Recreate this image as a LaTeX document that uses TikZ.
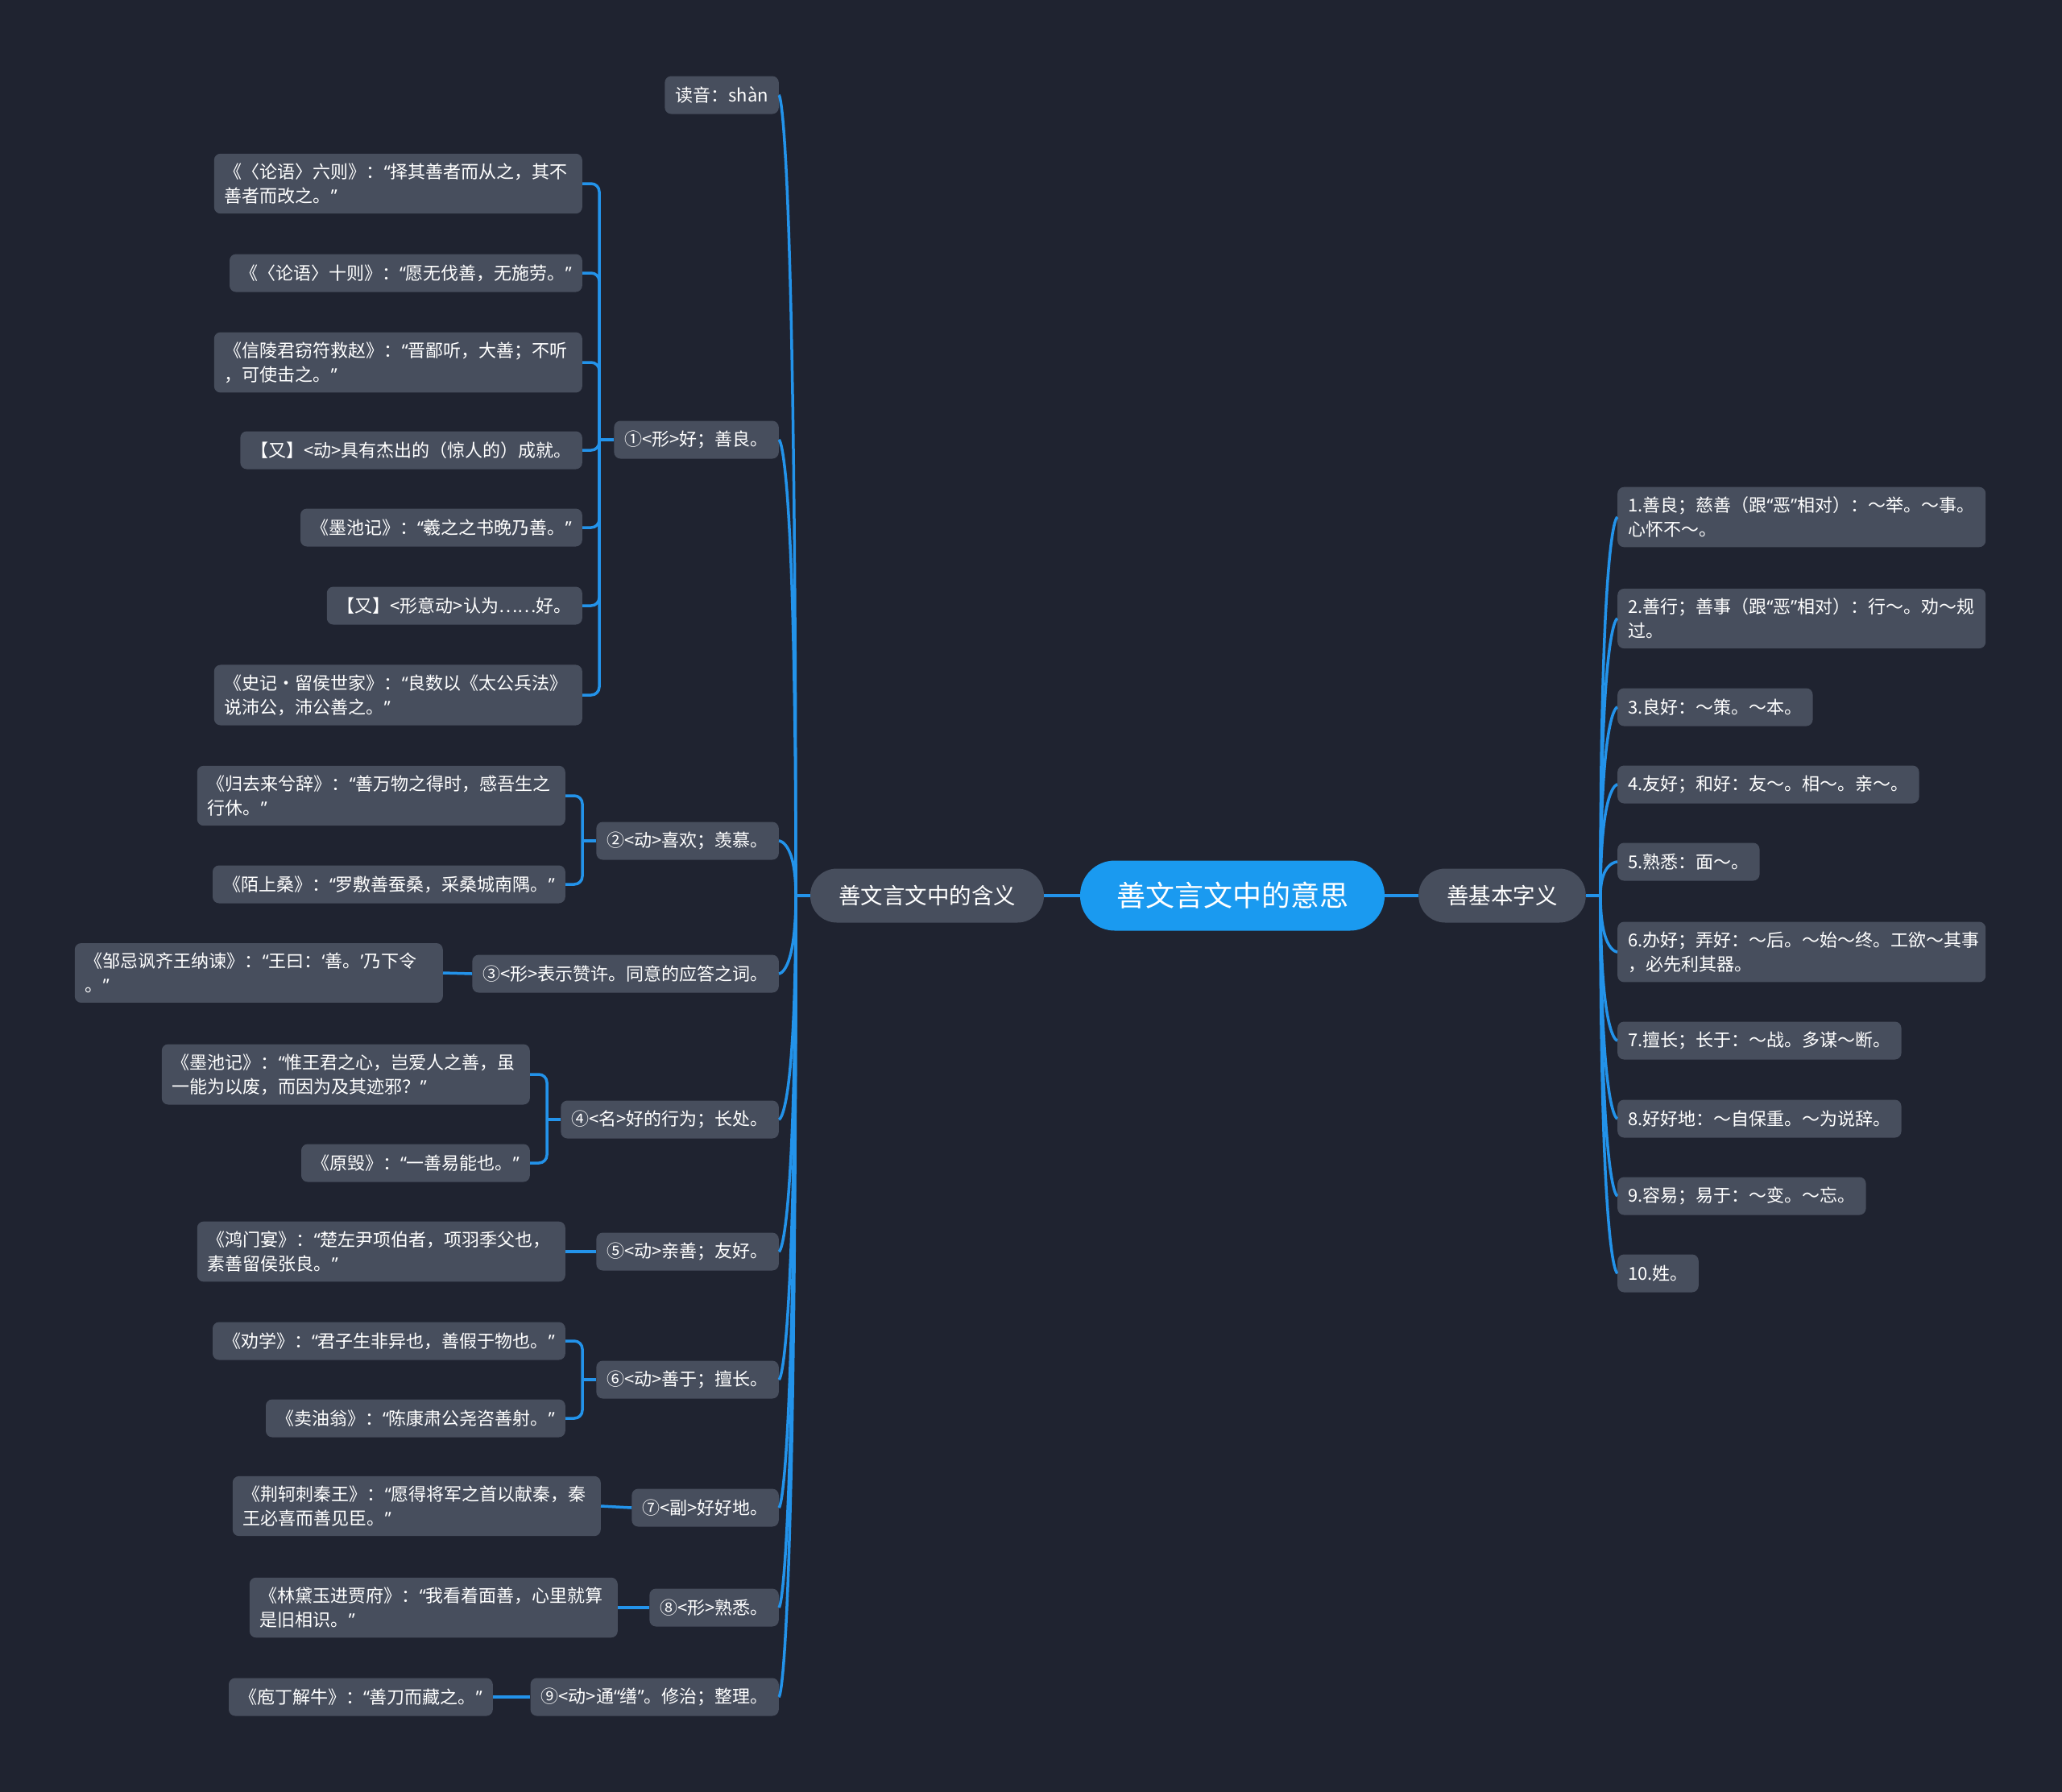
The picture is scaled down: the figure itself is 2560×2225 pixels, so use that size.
\documentclass[tikz,border=0pt]{standalone}
\usepackage{fontspec}
\setmainfont{Noto Sans CJK SC}
\newfontfamily\quotefont{Noto Sans}
\newcommand\qol{{\quotefont “}}
\newcommand\qcl{{\quotefont ”}}
\newcommand\qos{{\quotefont ‘}}
\newcommand\qcs{{\quotefont ’}}
\usepackage{tikz}
\usetikzlibrary{positioning}
\definecolor{bgnavy}{HTML}{1F2330}
\definecolor{boxgrey}{HTML}{474E5D}
\definecolor{linkblue}{HTML}{2393EA}
\definecolor{rootblue}{HTML}{1A9AF0}
\tikzset{
  leaf/.style={fill=boxgrey, text=white, rounded corners=8pt, inner xsep=13pt,
    inner ysep=12pt, minimum height=47pt, align=left,
    font=\fontsize{22}{30}\selectfont},
  longleaf/.style={leaf, text width=431pt},
  topic/.style={fill=boxgrey, text=white, rounded corners=33pt, inner xsep=35pt,
    minimum height=67pt, font=\fontsize{27.5}{33}\selectfont},
  root/.style={fill=rootblue, text=white, rounded corners=43pt, inner xsep=45pt,
    minimum height=87pt, font=\fontsize{36}{43}\selectfont},
  link/.style={draw=linkblue, line width=3.5pt},
}

\begin{document}
\begin{tikzpicture}[x=1pt,y=-1pt]
		% background, also the page size
			\fill[bgnavy] (0,0) rectangle (2560,2225);
		% centre and the two main branches
			\node[root] (T) at (1530,1112) {善文言文中的意思};
			\node[topic] (M) at (1151,1112) {善文言文中的含义};
			\node[topic] (K) at (1865,1112) {善基本字义};
			\coordinate (LS) at (988,1112);
			\coordinate (RS) at (1987,1112);
		% left: meanings in classical texts
			\node[leaf, anchor=east] (m0) at (967,118) {读音：shàn};
			\node[leaf, anchor=east] (m1) at (967,546) {①<形>好；善良。};
			\node[leaf, anchor=east] (m2) at (967,1044) {②<动>喜欢；羡慕。};
			\node[leaf, anchor=east] (m3) at (967,1209) {③<形>表示赞许。同意的应答之词。};
			\node[leaf, anchor=east] (m4) at (967,1390) {④<名>好的行为；长处。};
			\node[leaf, anchor=east] (m5) at (967,1554) {⑤<动>亲善；友好。};
			\node[leaf, anchor=east] (m6) at (967,1713) {⑥<动>善于；擅长。};
			\node[leaf, anchor=east] (m7) at (967,1872) {⑦<副>好好地。};
			\node[leaf, anchor=east] (m8) at (967,1996) {⑧<形>熟悉。};
			\node[leaf, anchor=east] (m9) at (967,2107) {⑨<动>通\qol{}缮\qcl{}。修治；整理。};
		% examples
			\node[longleaf, anchor=east] (m1a) at (723,228) {《〈论语〉六则》：\qol{}择其善者而从之，其不\\善者而改之。\qcl};
			\node[leaf, anchor=east] (m1b) at (723,339) {《〈论语〉十则》：\qol{}愿无伐善，无施劳。\qcl};
			\node[longleaf, anchor=east] (m1c) at (723,450) {《信陵君窃符救赵》：\qol{}晋鄙听，大善；不听\\，可使击之。\qcl};
			\node[leaf, anchor=east] (m1d) at (723,559) {【又】<动>具有杰出的（惊人的）成就。};
			\node[leaf, anchor=east] (m1e) at (723,655) {《墨池记》：\qol{}羲之之书晚乃善。\qcl};
			\node[leaf, anchor=east] (m1f) at (723,752) {【又】<形意动>认为……好。};
			\node[longleaf, anchor=east] (m1g) at (723,863) {《史记·留侯世家》：\qol{}良数以《太公兵法》\\说沛公，沛公善之。\qcl};
			\node[longleaf, anchor=east] (m2a) at (702,988) {《归去来兮辞》：\qol{}善万物之得时，感吾生之\\行休。\qcl};
			\node[leaf, anchor=east] (m2b) at (702,1098) {《陌上桑》：\qol{}罗敷善蚕桑，采桑城南隅。\qcl};
			\node[longleaf, anchor=east] (m3a) at (550,1208) {《邹忌讽齐王纳谏》：\qol{}王曰：\qos{}善。\qcs{}乃下令\\。\qcl};
			\node[longleaf, anchor=east] (m4a) at (658,1334) {《墨池记》：\qol{}惟王君之心，岂爱人之善，虽\\一能为以废，而因为及其迹邪？\qcl};
			\node[leaf, anchor=east] (m4b) at (658,1444) {《原毁》：\qol{}一善易能也。\qcl};
			\node[longleaf, anchor=east] (m5a) at (702,1554) {《鸿门宴》：\qol{}楚左尹项伯者，项羽季父也，\\素善留侯张良。\qcl};
			\node[leaf, anchor=east] (m6a) at (702,1665) {《劝学》：\qol{}君子生非异也，善假于物也。\qcl};
			\node[leaf, anchor=east] (m6b) at (702,1761) {《卖油翁》：\qol{}陈康肃公尧咨善射。\qcl};
			\node[longleaf, anchor=east] (m7a) at (746,1870) {《荆轲刺秦王》：\qol{}愿得将军之首以献秦，秦\\王必喜而善见臣。\qcl};
			\node[longleaf, anchor=east] (m8a) at (767,1996) {《林黛玉进贾府》：\qol{}我看着面善，心里就算\\是旧相识。\qcl};
			\node[leaf, anchor=east] (m9a) at (612,2107) {《庖丁解牛》：\qol{}善刀而藏之。\qcl};
		% right: basic meanings
			\node[longleaf, anchor=west] (k1) at (2008,642) {1.善良；慈善（跟\qol{}恶\qcl{}相对）：～举。～事。\\心怀不～。};
			\node[longleaf, anchor=west] (k2) at (2008,768) {2.善行；善事（跟\qol{}恶\qcl{}相对）：行～。劝～规\\过。};
			\node[leaf, anchor=west] (k3) at (2008,878) {3.良好：～策。～本。};
			\node[leaf, anchor=west] (k4) at (2008,974) {4.友好；和好：友～。相～。亲～。};
			\node[leaf, anchor=west] (k5) at (2008,1070) {5.熟悉：面～。};
			\node[longleaf, anchor=west] (k6) at (2008,1182) {6.办好；弄好：～后。～始～终。工欲～其事\\，必先利其器。};
			\node[leaf, anchor=west] (k7) at (2008,1292) {7.擅长；长于：～战。多谋～断。};
			\node[leaf, anchor=west] (k8) at (2008,1389) {8.好好地：～自保重。～为说辞。};
			\node[leaf, anchor=west] (k9) at (2008,1485) {9.容易；易于：～变。～忘。};
			\node[leaf, anchor=west] (k10) at (2008,1581) {10.姓。};
		% links
			\draw[link, line width=4.5pt] (T.west) -- (M.east);
			\draw[link, line width=4.5pt] (T.east) -- (K.west);
			\draw[link] (M.west) -- (LS);
			\draw[link] (K.east) -- (RS);
			\foreach \n in {m0,m1,m2,m3,m4,m5,m6,m7,m8,m9}
				\draw[link] (LS) .. controls (LS |- \n.east) and (\n.east) .. (\n.east);
			\foreach \n in {k1,k2,k3,k4,k5,k6,k7,k8,k9,k10}
				\draw[link] (RS) .. controls (RS |- \n.west) and (\n.west) .. (\n.west);
			\coordinate (S1) at (744,546);
			\coordinate (S2) at (723,1044);
			\coordinate (S4) at (679,1390);
			\coordinate (S6) at (723,1713);
			\draw[link] (m1.west) -- (S1);
			\draw[link] (m2.west) -- (S2);
			\draw[link] (m4.west) -- (S4);
			\draw[link] (m6.west) -- (S6);
			\foreach \n in {m1a,m1b,m1c,m1d,m1e,m1f,m1g}
				\draw[link, rounded corners=10pt] (S1) |- (\n.east);
			\foreach \n in {m2a,m2b}
				\draw[link, rounded corners=10pt] (S2) |- (\n.east);
			\foreach \n in {m4a,m4b}
				\draw[link, rounded corners=10pt] (S4) |- (\n.east);
			\foreach \n in {m6a,m6b}
				\draw[link, rounded corners=10pt] (S6) |- (\n.east);
			\draw[link] (m3.west) -- (m3a.east);
			\draw[link] (m5.west) -- (m5a.east);
			\draw[link] (m7.west) -- (m7a.east);
			\draw[link] (m8.west) -- (m8a.east);
			\draw[link] (m9.west) -- (m9a.east);
		\end{tikzpicture}
\end{document}
